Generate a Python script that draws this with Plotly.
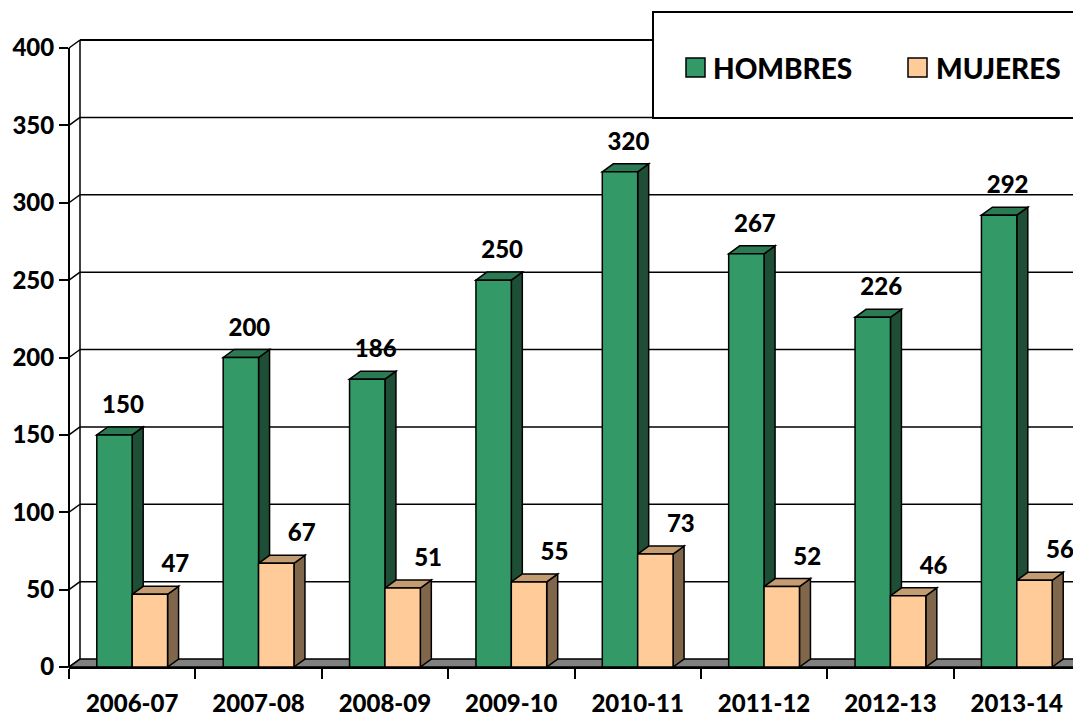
import plotly.graph_objects as go

# --- Data ---
seasons = ["2006-07", "2007-08", "2008-09", "2009-10", "2010-11", "2011-12", "2012-13", "2013-14"]
hombres = [150, 200, 186, 250, 320, 267, 226, 292]
mujeres = [47, 67, 51, 55, 73, 52, 46, 56]
y_ticks = [0, 50, 100, 150, 200, 250, 300, 350, 400]

# --- Page geometry (page body adds an 8px margin) ---
OFF = 8
W, H = 1081 - OFF, 717 - OFF
L, R, T, B = 69 - OFF, 1, 48 - OFF, 50
X_RANGE = [-0.5, len(seasons) - 0.5]
Y_RANGE = [0, 400]
plot_w = W - L - R
plot_h = H - T - B
px_x = plot_w / (X_RANGE[1] - X_RANGE[0])
px_y = plot_h / (Y_RANGE[1] - Y_RANGE[0])

# fake 3d depth (pixels -> data units)
DX = 11 / px_x
DY = 8 / px_y
BAR_W = 0.28

FONT = "Lato"
WEIGHT = 900
H_FRONT, H_TOP, H_SIDE = "#339966", "#2C7A54", "#1F4E37"
M_FRONT, M_TOP, M_SIDE = "#FFCC99", "#C49C72", "#80664B"


def xd(v):
    return (v - X_RANGE[0]) / (X_RANGE[1] - X_RANGE[0])


def yd(v):
    return (v - Y_RANGE[0]) / (Y_RANGE[1] - Y_RANGE[0])


# screen pixel -> paper coords
def pxx(p):
    return (p - OFF - L) / plot_w


def pxy(p):
    return (H - B - (p - OFF)) / plot_h


idx = list(range(len(seasons)))
shapes = []

# --- Floor ---
back_left = X_RANGE[0] + DX
floor = (f"M{xd(X_RANGE[0])},{yd(0)} L{xd(X_RANGE[1])},{yd(0)} "
         f"L{xd(X_RANGE[1] + DX)},{yd(DY)} L{xd(back_left)},{yd(DY)} Z")
shapes.append(dict(type="path", path=floor, xref="x domain", yref="y domain",
                   fillcolor="#808080", line=dict(color="black", width=1.5), layer="below"))

# --- Back wall gridlines + side wall diagonals ---
for v in y_ticks:
    if v > 0:
        shapes.append(dict(type="line", xref="x domain", yref="y domain",
                           x0=xd(back_left), x1=1.05, y0=yd(v + DY), y1=yd(v + DY),
                           line=dict(color="black", width=2 if v == 400 else 1.5), layer="below"))
    shapes.append(dict(type="line", xref="x domain", yref="y domain",
                       x0=0, x1=xd(back_left), y0=yd(v), y1=yd(v + DY),
                       line=dict(color="black", width=1.5), layer="below"))
shapes.append(dict(type="line", xref="x domain", yref="y domain",
                   x0=xd(back_left), x1=xd(back_left), y0=yd(DY), y1=yd(400 + DY),
                   line=dict(color="black", width=1.5), layer="below"))
# front value axis
shapes.append(dict(type="line", xref="x domain", yref="y domain",
                   x0=0, x1=0, y0=yd(0), y1=yd(400),
                   line=dict(color="black", width=2), layer="below"))


# --- Top and side faces of the columns ---
def faces(x0, x1, v, top, side):
    top_path = (f"M{x0},{v} L{x0 + DX},{v + DY} L{x1 + DX},{v + DY} L{x1},{v} Z")
    side_path = (f"M{x1},0 L{x1},{v} L{x1 + DX},{v + DY} L{x1 + DX},{DY} Z")
    out = []
    for p, c in ((side_path, side), (top_path, top)):
        out.append(dict(type="path", path=p, xref="x", yref="y", fillcolor=c,
                        line=dict(color="black", width=1.5), layer="between"))
    return out


for i in idx:
    shapes += faces(i - BAR_W, i, hombres[i], H_TOP, H_SIDE)
    shapes += faces(i, i + BAR_W, mujeres[i], M_TOP, M_SIDE)

# --- Legend box ---
shapes.append(dict(type="rect", xref="paper", yref="paper",
                   x0=pxx(653), x1=pxx(1090), y0=pxy(118), y1=pxy(12),
                   fillcolor="white", line=dict(color="black", width=2), layer="above"))
shapes.append(dict(type="rect", xref="paper", yref="paper",
                   x0=pxx(686), x1=pxx(705), y0=pxy(77), y1=pxy(58),
                   fillcolor=H_FRONT, line=dict(color="black", width=1.5), layer="above"))
shapes.append(dict(type="rect", xref="paper", yref="paper",
                   x0=pxx(908), x1=pxx(927), y0=pxy(77), y1=pxy(58),
                   fillcolor=M_FRONT, line=dict(color="black", width=1.5), layer="above"))

fig = go.Figure()

fig.add_trace(go.Bar(
    x=idx, y=hombres, width=BAR_W, offset=-BAR_W, name="HOMBRES",
    marker=dict(color=H_FRONT, line=dict(color="black", width=1.5)),
    showlegend=False,
))
fig.add_trace(go.Bar(
    x=idx, y=mujeres, width=BAR_W, offset=0, name="MUJERES",
    marker=dict(color=M_FRONT, line=dict(color="black", width=1.5)),
    showlegend=False,
))

# --- Value labels ---
lab_up = 20 / px_y
fig.add_trace(go.Scatter(
    x=[i - BAR_W / 2 + DX / 2 + 3 / px_x for i in idx],
    y=[v + DY + lab_up for v in hombres],
    text=[str(v) for v in hombres], mode="text", textposition="middle center",
    textfont=dict(family=FONT, size=24, color="black", weight=WEIGHT),
    showlegend=False, hoverinfo="skip",
))
fig.add_trace(go.Scatter(
    x=[i + BAR_W / 2 + DX / 2 + 20 / px_x for i in idx],
    y=[v + DY + lab_up for v in mujeres],
    text=[str(v) for v in mujeres], mode="text", textposition="middle center",
    textfont=dict(family=FONT, size=24, color="black", weight=WEIGHT),
    showlegend=False, hoverinfo="skip", cliponaxis=False,
))

annotations = [
    dict(text="HOMBRES", xref="paper", yref="paper", x=pxx(711), y=pxy(68),
         xanchor="left", yanchor="middle", showarrow=False,
         font=dict(family=FONT, size=28, color="black", weight=WEIGHT)),
    dict(text="MUJERES", xref="paper", yref="paper", x=pxx(934), y=pxy(68),
         xanchor="left", yanchor="middle", showarrow=False,
         font=dict(family=FONT, size=28, color="black", weight=WEIGHT)),
]

fig.update_layout(
    width=W, height=H,
    margin=dict(l=L, r=R, t=T, b=B, pad=0),
    paper_bgcolor="white", plot_bgcolor="rgba(0,0,0,0)",
    barmode="overlay",
    shapes=shapes,
    annotations=annotations,
    font=dict(family=FONT, color="black"),
)
fig.update_xaxes(
    range=X_RANGE, tickvals=idx, ticktext=seasons, automargin=False,
    showgrid=False, zeroline=False,
    showline=True, linecolor="black", linewidth=2,
    ticks="", ticklabelstandoff=14,
    tickfont=dict(family=FONT, size=24, color="black", weight=WEIGHT),
    minor=dict(tick0=-0.5, dtick=1, ticks="outside", ticklen=10, tickwidth=2, tickcolor="black"),
)
fig.update_yaxes(
    range=Y_RANGE, tickvals=y_ticks, automargin=False,
    showgrid=False, zeroline=False, showline=False,
    ticks="outside", ticklen=9, tickwidth=2, tickcolor="black",
    tickfont=dict(family=FONT, size=24, color="black", weight=WEIGHT),
)

fig.write_html("out.html")
